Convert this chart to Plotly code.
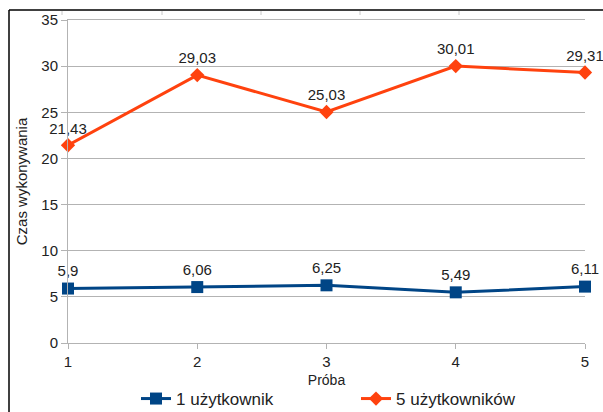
import plotly.graph_objects as go

proby = [1, 2, 3, 4, 5]
jeden_uzytkownik = [5.9, 6.06, 6.25, 5.49, 6.11]
piec_uzytkownikow = [21.43, 29.03, 25.03, 30.01, 29.31]
y_ticks = [0, 5, 10, 15, 20, 25, 30, 35]

def fmt(v):
    return str(v).replace('.', ',')

W, H = 603, 412
PL, PR, PT, PB = 68, 585, 20, 343  # plot area in page pixels
L, R, T, B = PL, W - PR, PT, H - PB
pw, ph = PR - PL, PB - PT

def px_x(p):
    return (p - PL) / pw

def px_y(p):
    return (PB - p) / ph

fig = go.Figure()
fig.add_trace(go.Scatter(
    x=proby, y=jeden_uzytkownik, name="1 użytkownik",
    mode="lines+markers+text",
    line=dict(color="#004586", width=3),
    marker=dict(symbol="square", size=12, color="#004586"),
    text=[fmt(v) for v in jeden_uzytkownik], textposition="top center",
    textfont=dict(size=15, color="#222222"), cliponaxis=False,
))
fig.add_trace(go.Scatter(
    x=proby, y=piec_uzytkownikow, name="5 użytkowników",
    mode="lines+markers+text",
    line=dict(color="#ff420e", width=3),
    marker=dict(symbol="diamond", size=11, color="#ff420e"),
    text=[fmt(v) for v in piec_uzytkownikow], textposition="top center",
    textfont=dict(size=15, color="#222222"), cliponaxis=False,
))

top_ticks = [62, 162, 261, 360, 459]
shapes = [
    dict(type="line", xref="paper", yref="paper", x0=px_x(9), y0=px_y(10), x1=px_x(610), y1=px_y(10),
         line=dict(color="black", width=1.5)),
    dict(type="line", xref="paper", yref="paper", x0=px_x(9), y0=px_y(10), x1=px_x(9), y1=px_y(420),
         line=dict(color="black", width=1.5)),
]
for tx in top_ticks:
    shapes.append(dict(type="line", xref="paper", yref="paper", x0=px_x(tx), y0=px_y(11), x1=px_x(tx), y1=px_y(15),
                       line=dict(color="#c8c8c8", width=1)))

fig.update_layout(
    width=W, height=H,
    margin=dict(l=L, r=R, t=T, b=B, autoexpand=False),
    paper_bgcolor="white", plot_bgcolor="white",
    font=dict(family="Liberation Sans, Arial, sans-serif", size=15, color="#222222"),
    showlegend=True,
    legend=dict(orientation="h", x=px_x(356), xanchor="center", y=px_y(399), yanchor="middle",
                font=dict(size=17), tracegroupgap=0, entrywidth=175, entrywidthmode="pixels"),
    xaxis=dict(
        range=[1, 5], tickvals=proby, ticktext=[str(p) for p in proby],
        showgrid=False, showline=True, linecolor="#b3b3b3", linewidth=1, mirror=True,
        ticks="outside", ticklen=5, tickcolor="#b3b3b3",
        zeroline=False,
        title=dict(text="Próba", font=dict(size=14), standoff=6),
        tickfont=dict(size=15),
    ),
    yaxis=dict(
        range=[0, 35], tickvals=y_ticks,
        showgrid=True, gridcolor="#b3b3b3", gridwidth=1,
        showline=True, linecolor="#b3b3b3", linewidth=1,
        ticks="outside", ticklen=6, tickcolor="#b3b3b3",
        zeroline=False,
        title=dict(text="Czas wykonywania", font=dict(size=15), standoff=10),
        tickfont=dict(size=15),
    ),
    shapes=shapes,
)

fig.write_html(
    "out.html",
    config={"displayModeBar": False},
    post_script="document.body.style.margin='0';document.body.style.overflow='hidden';",
)
